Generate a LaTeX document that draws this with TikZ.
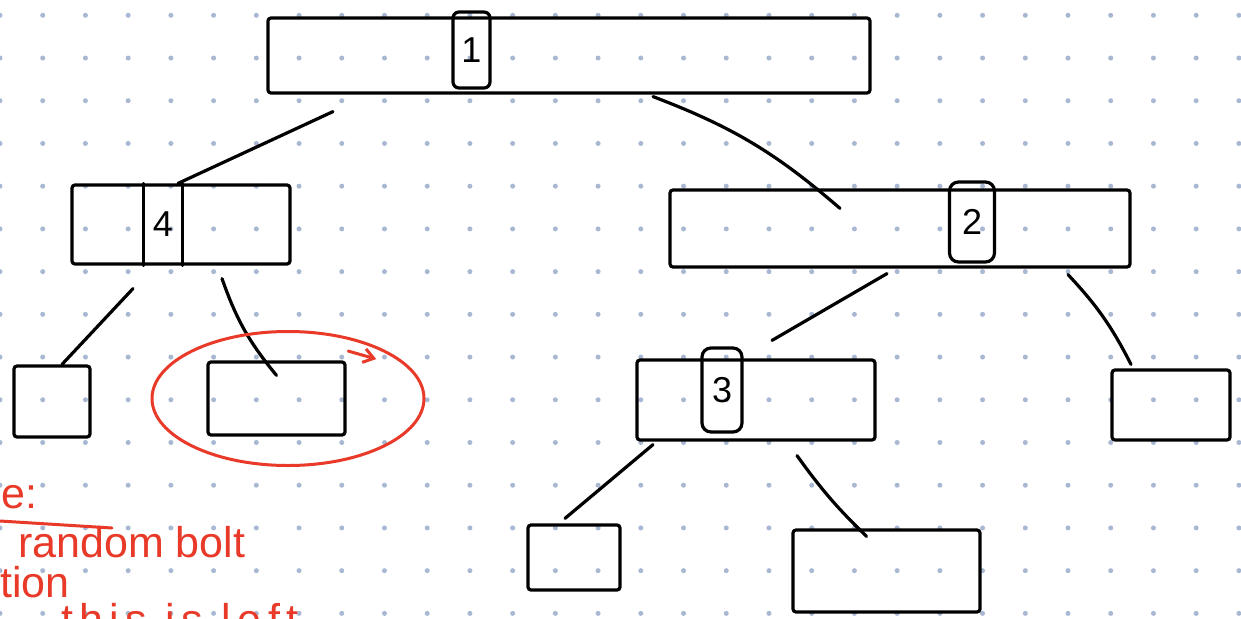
\documentclass[tikz,border=0pt]{standalone}
\usepackage{fontspec}
\newfontfamily\notefont{Liberation Sans}
\usepackage{xcolor}
\usetikzlibrary{shapes,arrows,arrows.meta,positioning}
\definecolor{inkred}{RGB}{233,57,40}
\definecolor{griddot}{RGB}{168,184,210}

\begin{document}
\begin{tikzpicture}[
    x=1pt, y=1pt,
    on grid,
    box/.style={rectangle, draw, line width=3.2pt, rounded corners=3pt, inner sep=0pt},
    keybox/.style={rectangle, draw, line width=3.2pt, rounded corners=6pt, inner sep=0pt, font=\notefont\fontsize{36}{36}\selectfont},
    link/.style={line width=3.2pt, line cap=round},
    redpen/.style={draw=inkred, line width=3pt, line cap=round},
    note/.style={inkred, inner sep=0pt, font=\notefont\fontsize{43}{43}\selectfont}
]
    \useasboundingbox[fill=white] (0,0) rectangle (1241,-618);
    % dotted paper
    \foreach \i in {0,...,29}
        \foreach \j in {0,...,14}
            \fill[griddot] (\i*42.72,-15.3-\j*42.72) circle (2.5pt);

    % nodes of the tree
    \node[box, minimum width=602pt, minimum height=75pt] (root) at (569,-55.5) {};
    \node[box, minimum width=218pt, minimum height=79pt, below left=169pt and 388pt of root] (left) {};
    \node[box, minimum width=460pt, minimum height=77pt, below right=173pt and 331pt of root] (right) {};
    \node[box, minimum width=238pt, minimum height=80pt, below left=171.5pt and 144pt of right] (mid) {};
    \node[box, minimum width=76pt, minimum height=71pt, below left=177pt and 129pt of left] (leafa) {};
    \node[box, minimum width=137pt, minimum height=73pt, below right=174pt and 95.5pt of left] (leafb) {};
    \node[box, minimum width=118pt, minimum height=70pt, below right=176.5pt and 271pt of right] (leafe) {};
    \node[box, minimum width=92pt, minimum height=65pt, below left=157.5pt and 182pt of mid] (leafc) {};
    \node[box, minimum width=187pt, minimum height=82pt, below right=171pt and 130.5pt of mid] (leafd) {};

    % keys
    \node[keybox, minimum width=37pt, minimum height=76pt] (k1) at ([xshift=-97.5pt,yshift=5.5pt]root.center) {1};
    \node[keybox, draw=none, minimum width=36pt, minimum height=79pt] (k4) at ([xshift=-18pt]left.center) {4};
    \draw[link] (k4.north west) -- (k4.south west);
    \draw[link] (k4.north east) -- (k4.south east);
    \node[keybox, rounded corners=9pt, minimum width=45pt, minimum height=80pt] (k2) at ([xshift=72pt,yshift=6.5pt]right.center) {2};
    \node[keybox, rounded corners=9pt, minimum width=40pt, minimum height=84pt] (k3) at ([xshift=-34pt,yshift=10pt]mid.center) {3};

    \draw[link] ([xshift=-236pt,yshift=-17pt]root.south) -- ([xshift=-3pt]left.north);
    \draw[link] ([xshift=84pt,yshift=-2pt]root.south) to[bend left=10] ([xshift=-60pt,yshift=-20pt]right.north);
    \draw[link] ([xshift=-48pt,yshift=-23pt]left.south) -- ([xshift=10pt]leafa.north);
    \draw[link] ([xshift=41pt,yshift=-13pt]left.south) to[bend right=10] ([yshift=-15pt]leafb.north);
    \draw[link] ([xshift=-13pt,yshift=-5pt]right.south) -- ([xshift=16pt,yshift=18pt]mid.north);
    \draw[link] ([xshift=168pt,yshift=-6pt]right.south) to[bend left=8] ([xshift=-40pt,yshift=4pt]leafe.north);
    \draw[link] ([xshift=-103pt,yshift=-3pt]mid.south) -- ([xshift=-9pt,yshift=5pt]leafc.north);
    \draw[link] ([xshift=41pt,yshift=-14pt]mid.south) to[bend right=5] ([xshift=-20pt,yshift=-8pt]leafd.north);

    % red marking
    \node[ellipse, redpen, minimum width=272pt, minimum height=134pt, inner sep=0pt] (ring) at ([xshift=11.5pt]leafb.center) {};
    \draw[redpen, -{Straight Barb[length=10pt,width=14pt]}] ([xshift=-37pt,yshift=-1pt]ring.north east) -- ([xshift=-9pt,yshift=-9pt]ring.north east);

    \node[note, anchor=base west] (title) at (1,-508) {e:};
    \draw[redpen] (0,-521) -- (112,-528);
    \node[note, anchor=base west] (bolt) at (18,-557) {random bolt};
    \node[note, anchor=base west] (rot) at (0,-597) {tion};
    \node[note, anchor=base west] (last) at (61,-634) {\addfontfeature{LetterSpace=15}this is left};
\end{tikzpicture}
\end{document}
